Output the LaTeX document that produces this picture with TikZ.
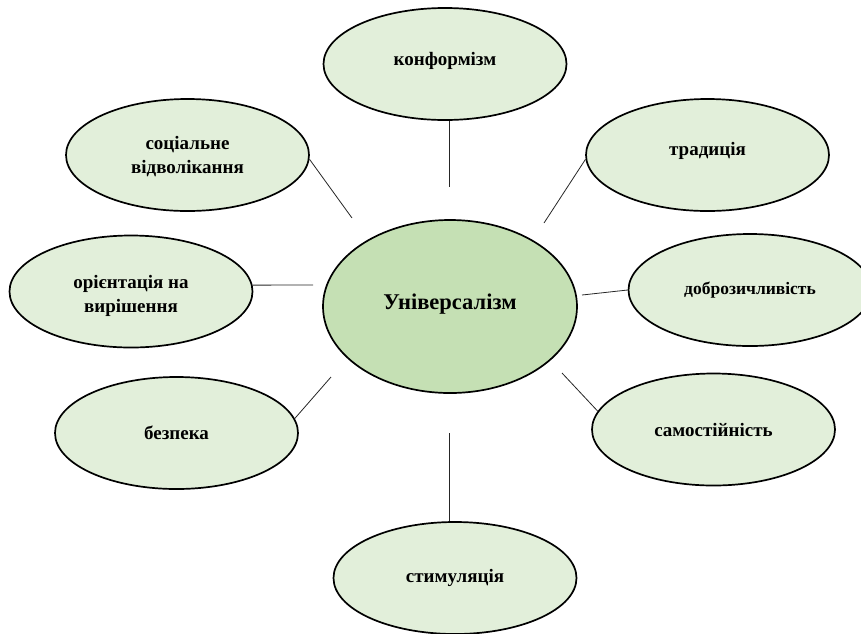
\documentclass[tikz,border=0pt]{standalone}
\usepackage{fontspec}
\setmainfont{Liberation Serif}
\usetikzlibrary{shapes.geometric}
\definecolor{outerfill}{HTML}{E2EFDA}
\definecolor{hubfill}{HTML}{C5E0B4}
% shift a label vertically without changing the node's size
\newcommand{\nudge}[2]{\raisebox{#1}[\height][\depth]{\begin{tabular}{@{}c@{}}#2\end{tabular}}}
\tikzset{
  value/.style={ellipse, draw=black, line width=1.7pt, fill=outerfill,
    inner sep=0pt, minimum width=243pt, minimum height=112pt,
    align=center, font=\bfseries\fontsize{19}{24}\selectfont},
  hub/.style={ellipse, draw=black, line width=1.7pt, fill=hubfill,
    inner sep=0pt, minimum width=254pt, minimum height=173pt,
    font=\bfseries\fontsize{22.5}{27}\selectfont},
  link/.style={draw=black!85, line width=0.8pt}
}
\begin{document}
\begin{tikzpicture}[x=1pt, y=-1pt]
  \useasboundingbox (0,0) rectangle (861,633);
  \clip (0,0) rectangle (861,633);

  % central value
  \node[hub] (hub) at (450,306.5) {\nudge{2pt}{Універсалізм}};

  % surrounding values
  \node[value] (konf) at (445,64)    {\nudge{3pt}{конформізм}};
  \node[value] (trad) at (707.5,155) {\nudge{4pt}{традиція}};
  \node[value, font=\bfseries\fontsize{17.5}{22}\selectfont]
               (dobr) at (750,290)   {доброзичливість};
  \node[value] (samo) at (713.5,429.5) {самостійність};
  \node[value] (stim) at (455,578)   {стимуляція};
  \node[value] (bezp) at (176.5,433) {безпека};
  \node[value] (orie) at (131,291.5) {\nudge{-4pt}{орієнтація на\\вирішення}};
  \node[value] (soc)  at (187.5,155) {\nudge{-2pt}{соціальне\\відволікання}};

  % inner ends of the spokes, short of the central ellipse
  \coordinate (kK) at (449,187);
  \coordinate (kT) at (544,223);
  \coordinate (kD) at (582,295);
  \coordinate (kSa) at (562,373);
  \coordinate (kSt) at (449,433);
  \coordinate (kB) at (331,377);
  \coordinate (kO) at (313,285);
  \coordinate (kSo) at (352,218);

  % spokes
  \draw[link] (kK |- konf.south) -- (kK);
  \draw[link] (trad.182) -- (kT);
  \draw[link] (dobr.west) -- (kD);
  \draw[link] (samo.171.5) -- (kSa);
  \draw[link] (kSt |- stim.north) -- (kSt);
  \draw[link] (bezp.7.7) -- (kB);
  \draw[link] (orie.3) -- (kO);
  \draw[link] (soc.-2) -- (kSo);
\end{tikzpicture}
\end{document}
